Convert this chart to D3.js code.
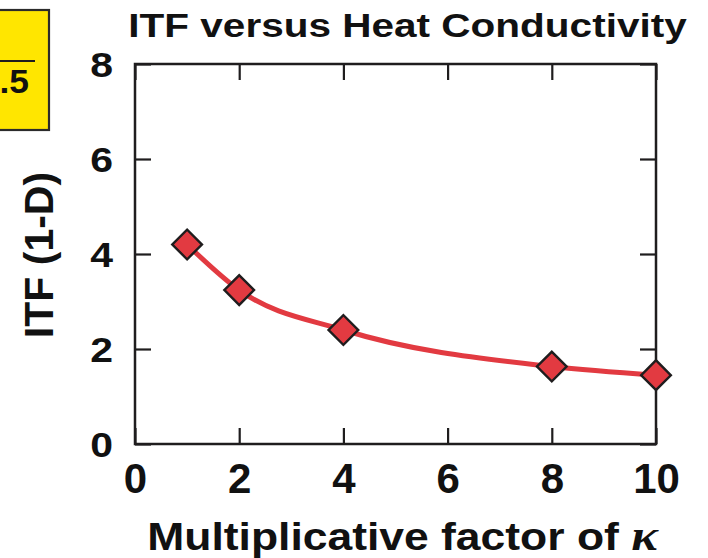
<!DOCTYPE html>
<html>
<head>
<meta charset="utf-8">
<script src="https://cdn.jsdelivr.net/npm/d3@7"></script>
<style>
  html, body { margin: 0; padding: 0; background: #fff; }
  svg { display: block; }
  text { font-family: "Liberation Sans", Arial, Helvetica, sans-serif; font-weight: bold; fill: #111; }
</style>
</head>
<body>
<svg id="chart" width="708" height="558"></svg>
<script>
// ITF versus multiplicative factor of heat conductivity
const kappaFactor = [1, 2, 4, 8, 10];
const itfValues = [4.2, 3.24, 2.40, 1.63, 1.45];
const xTicks = [0, 2, 4, 6, 8, 10];
const yTicks = [0, 2, 4, 6, 8];

const plot = { left: 135, right: 656, top: 64, bottom: 444 };
const red = "#e23a41";
const ink = "#1f1d1e";

const svg = d3.select("#chart");

const x = d3.scaleLinear().domain([0, 10]).range([plot.left, plot.right]);
const y = d3.scaleLinear().domain([0, 8]).range([plot.bottom, plot.top]);

// inset badge at the top-left corner
const badge = svg.append("g");
badge.append("rect")
  .attr("x", -10).attr("y", 10).attr("width", 59).attr("height", 120)
  .attr("fill", "#ffe600").attr("stroke", "#2b2b2b").attr("stroke-width", 2.2);
badge.append("line")
  .attr("x1", 0).attr("x2", 35).attr("y1", 61).attr("y2", 61)
  .attr("stroke", ink).attr("stroke-width", 2);
badge.append("text")
  .attr("transform", "translate(29,93) scale(1.04,1)")
  .attr("text-anchor", "end")
  .style("font-size", "34px")
  .text(".5");

// axes: ticks point inward on all four sides
const tickLen = 16;
const styleAxis = g => {
  g.select(".domain").remove();
  g.selectAll(".tick line").attr("stroke", ink).attr("stroke-width", 2.2);
};

const gx = svg.append("g")
  .attr("transform", `translate(0,${plot.bottom})`)
  .call(d3.axisBottom(x).tickValues(xTicks).tickSizeInner(-tickLen).tickSizeOuter(0).tickFormat(d3.format("d")));
styleAxis(gx);
gx.selectAll(".tick text")
  .attr("y", 49).attr("dy", 0)
  .attr("fill", "#111")
  .style("font-size", "42px")
  .style("font-family", null);

const gxTop = svg.append("g")
  .attr("transform", `translate(0,${plot.top})`)
  .call(d3.axisTop(x).tickValues(xTicks).tickSizeInner(-tickLen).tickSizeOuter(0).tickFormat(""));
styleAxis(gxTop);

const gy = svg.append("g")
  .attr("transform", `translate(${plot.left},0)`)
  .call(d3.axisLeft(y).tickValues(yTicks).tickSizeInner(-tickLen).tickSizeOuter(0).tickFormat(d3.format("d")));
styleAxis(gy);
gy.selectAll(".tick text")
  .attr("x", 0).attr("dy", 0)
  .attr("transform", "translate(-22,12.5) scale(1.17,1)")
  .attr("text-anchor", "end")
  .attr("fill", "#111")
  .style("font-size", "35px")
  .style("font-family", null);

const gyRight = svg.append("g")
  .attr("transform", `translate(${plot.right},0)`)
  .call(d3.axisRight(y).tickValues(yTicks).tickSizeInner(-tickLen).tickSizeOuter(0).tickFormat(""));
styleAxis(gyRight);

// plot frame
svg.append("rect")
  .attr("x", plot.left).attr("y", plot.top)
  .attr("width", plot.right - plot.left).attr("height", plot.bottom - plot.top)
  .attr("fill", "none").attr("stroke", ink).attr("stroke-width", 2.5);

// data
const pts = kappaFactor.map((k, i) => ({ k, v: itfValues[i] }));

const line = d3.line()
  .x(d => x(d.k)).y(d => y(d.v))
  .curve(d3.curveMonotoneX);

svg.append("path")
  .datum(pts)
  .attr("d", line)
  .attr("fill", "none")
  .attr("stroke", red)
  .attr("stroke-width", 5)
  .attr("stroke-linecap", "round");

const diamond = d3.symbol().type(d3.symbolSquare).size(441);
svg.append("g").selectAll("path")
  .data(pts)
  .join("path")
  .attr("transform", d => `translate(${x(d.k)},${y(d.v)}) rotate(45)`)
  .attr("d", diamond)
  .attr("fill", red)
  .attr("stroke", ink)
  .attr("stroke-width", 2.4)
  .attr("stroke-linejoin", "miter");

// titles
svg.append("text")
  .attr("transform", "translate(407.5,37) scale(1.21,1)")
  .attr("text-anchor", "middle")
  .style("font-size", "33.5px")
  .text("ITF versus Heat Conductivity");

svg.append("text")
  .attr("transform", "translate(53,255) rotate(-90)")
  .attr("text-anchor", "middle")
  .style("font-size", "41px")
  .text("ITF (1-D)");

const xl = svg.append("text")
  .attr("transform", "translate(402.5,550) scale(1.14,1)")
  .attr("text-anchor", "middle")
  .style("font-size", "39px");
xl.append("tspan").text("Multiplicative factor of ");
xl.append("tspan")
  .style("font-family", "'Liberation Serif', 'DejaVu Serif', serif")
  .style("font-style", "italic")
  .style("font-size", "44px")
  .text("κ");
</script>
</body>
</html>
